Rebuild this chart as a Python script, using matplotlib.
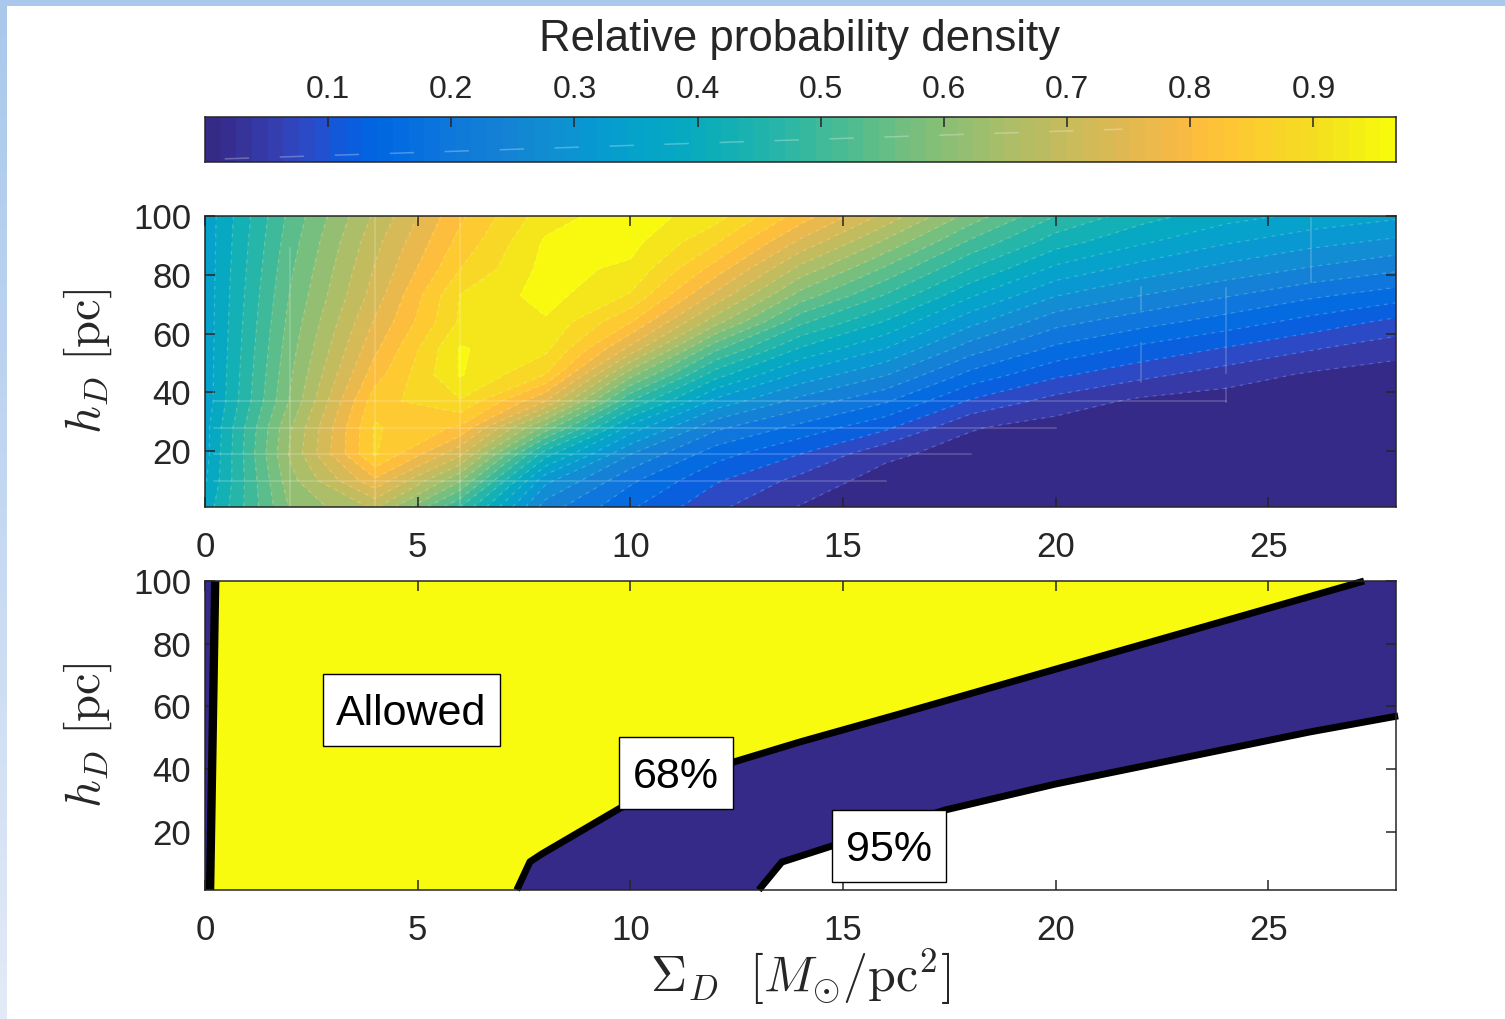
import numpy as np
import matplotlib
matplotlib.use('Agg')
import matplotlib.pyplot as plt
from matplotlib.colors import LinearSegmentedColormap
from matplotlib.patches import Rectangle

plt.rcParams['font.family'] = ['Liberation Sans', 'DejaVu Sans']
plt.rcParams['mathtext.fontset'] = 'cm'

# parula
parula_rgb = [
    [0.2081, 0.1663, 0.5292], [0.2116, 0.1898, 0.5777], [0.2123, 0.2138, 0.6270], [0.2081, 0.2386, 0.6771],
    [0.1959, 0.2645, 0.7279], [0.1707, 0.2919, 0.7792], [0.1253, 0.3242, 0.8303], [0.0591, 0.3598, 0.8683],
    [0.0117, 0.3875, 0.8820], [0.0060, 0.4086, 0.8828], [0.0165, 0.4266, 0.8786], [0.0329, 0.4430, 0.8720],
    [0.0498, 0.4586, 0.8641], [0.0629, 0.4737, 0.8554], [0.0723, 0.4887, 0.8467], [0.0779, 0.5040, 0.8384],
    [0.0793, 0.5200, 0.8312], [0.0749, 0.5375, 0.8263], [0.0641, 0.5570, 0.8240], [0.0488, 0.5772, 0.8228],
    [0.0343, 0.5966, 0.8199], [0.0265, 0.6137, 0.8135], [0.0239, 0.6287, 0.8038], [0.0231, 0.6418, 0.7913],
    [0.0228, 0.6535, 0.7768], [0.0267, 0.6642, 0.7607], [0.0384, 0.6743, 0.7436], [0.0590, 0.6838, 0.7254],
    [0.0843, 0.6928, 0.7062], [0.1133, 0.7015, 0.6859], [0.1453, 0.7098, 0.6646], [0.1801, 0.7177, 0.6424],
    [0.2178, 0.7250, 0.6193], [0.2586, 0.7317, 0.5954], [0.3022, 0.7376, 0.5712], [0.3482, 0.7424, 0.5473],
    [0.3953, 0.7459, 0.5244], [0.4420, 0.7481, 0.5033], [0.4871, 0.7491, 0.4840], [0.5300, 0.7491, 0.4661],
    [0.5709, 0.7485, 0.4494], [0.6099, 0.7473, 0.4337], [0.6473, 0.7456, 0.4188], [0.6834, 0.7435, 0.4044],
    [0.7184, 0.7411, 0.3905], [0.7525, 0.7384, 0.3768], [0.7858, 0.7356, 0.3633], [0.8185, 0.7327, 0.3498],
    [0.8507, 0.7299, 0.3360], [0.8824, 0.7274, 0.3217], [0.9139, 0.7258, 0.3063], [0.9450, 0.7261, 0.2886],
    [0.9739, 0.7314, 0.2666], [0.9938, 0.7455, 0.2403], [0.9990, 0.7653, 0.2164], [0.9955, 0.7861, 0.1967],
    [0.9880, 0.8066, 0.1794], [0.9789, 0.8271, 0.1633], [0.9697, 0.8481, 0.1475], [0.9626, 0.8705, 0.1309],
    [0.9589, 0.8949, 0.1132], [0.9598, 0.9218, 0.0948], [0.9661, 0.9514, 0.0755], [0.9763, 0.9831, 0.0538],
]
parula = LinearSegmentedColormap.from_list('parula', parula_rgb)

# data
sigma = [0, 2, 4, 6, 8, 10, 12, 14, 16, 18, 20, 22, 24, 26, 28]
hd = [1, 10, 19, 28, 37, 46, 55, 64, 73, 82, 91, 100]
density = [
    [.40, .62, .70, .50, .25, .16, .085, .036, .010, .005, .002, .001, .001, .001, .001],
    [.38, .64, .80, .62, .32, .20, .120, .065, .020, .010, .005, .002, .001, .001, .001],
    [.37, .66, .89, .74, .44, .27, .170, .115, .048, .020, .010, .005, .002, .001, .001],
    [.37, .65, .89, .84, .60, .37, .240, .180, .123, .042, .020, .010, .005, .002, .001],
    [.36, .62, .87, .92, .77, .50, .335, .255, .197, .110, .062, .030, .020, .010, .005],
    [.36, .61, .83, .966, .885, .63, .440, .335, .272, .180, .123, .088, .058, .033, .020],
    [.36, .60, .80, .966, .935, .76, .550, .420, .347, .250, .184, .145, .113, .081, .054],
    [.36, .59, .775, .93, .958, .85, .670, .510, .420, .320, .245, .208, .175, .140, .105],
    [.36, .58, .75, .925, .978, .92, .760, .600, .497, .390, .310, .270, .235, .200, .173],
    [.36, .57, .735, .885, .975, .955, .830, .680, .570, .460, .375, .330, .295, .265, .238],
    [.36, .56, .72, .86, .968, .975, .890, .760, .645, .530, .440, .390, .350, .320, .298],
    [.36, .55, .70, .84, .945, .985, .940, .830, .720, .600, .500, .440, .400, .375, .354],
]
level_step = 0.0385
clim_max = 0.967

# faint grid lines left in the contour plot
grid_h_y = [10, 19, 28, 37]
grid_h_end = [16, 18, 20, 24]
grid_v_x = [2, 4, 6, 22, 22, 24, 24, 26]
grid_v_lo = [1, 1, 1, 68, 43.5, 46.6, 36.7, 77.6]
grid_v_hi = [89, 100, 100, 75.9, 56.8, 75.5, 41.5, 99.3]

# limits of the bottom panel
c68_left_x = [0.12, 0.24]
c68_left_y = [1.5, 100]
c68_x = [7.33, 7.64, 7.92, 9.76, 11.5, 13.99, 16.3, 20, 24, 27.25]
c68_y = [1.5, 10.5, 13, 27.6, 38.5, 48.7, 57.5, 71.9, 87.4, 100]
c95_x = [13.02, 13.56, 14.8, 17.4, 20, 25.98, 28.05]
c95_y = [1.5, 10.4, 15.8, 27, 35.3, 51.9, 57]

box_text = ['Allowed', '68%', '95%']
box_x0 = [2.77, 9.73, 14.74]
box_x1 = [6.93, 12.41, 17.42]
box_y0 = [47.4, 27.3, 4.05]
box_y1 = [70.4, 50.3, 27.0]

cbar_ticks = [.1, .2, .3, .4, .5, .6, .7, .8, .9]
x_ticks = [0, 5, 10, 15, 20, 25]
y_ticks = [20, 40, 60, 80, 100]
W, H = 1505, 1019
dark = '#262626'
indigo = parula_rgb[0]
yellow = parula_rgb[-1]

fig = plt.figure(figsize=(W / 100, H / 100), dpi=100, facecolor='white')


def axes_px(x0, y0, x1, y1):
    return fig.add_axes([x0 / W, 1 - y1 / H, (x1 - x0) / W, (y1 - y0) / H])


def style(ax, labelsize=25):
    ax.tick_params(direction='in', length=7, width=1.1, color=dark, labelcolor=dark,
                   labelsize=labelsize, top=True, right=True)
    ax.tick_params(axis='x', pad=17)
    ax.tick_params(axis='y', pad=10)
    for s in ax.spines.values():
        s.set_linewidth(1.1)
        s.set_color(dark)
    ax.set_xticks(x_ticks)
    ax.set_yticks(y_ticks)


# blue window edge
edge = axes_px(0, 0, 7, H)
edge.imshow(np.linspace(0, 1, 200).reshape(-1, 1), aspect='auto', vmin=0, vmax=1,
            cmap=LinearSegmentedColormap.from_list('edge', ['#a9c8ec', '#c4d8f1', '#e2eaf6']))
edge.axis('off')
fig.add_artist(Rectangle((0, 1 - 6 / H), 1, 6 / H, transform=fig.transFigure, color='#a9c8ec', lw=0))

# colour bar
cax = axes_px(205, 117, 1396, 162)
steps = np.linspace(0, clim_max, 76)
cax.imshow(steps.reshape(1, -1), aspect='auto', cmap=parula, vmin=0, vmax=clim_max,
           extent=[0, clim_max, 0, 1], interpolation='nearest')
cax.plot([0.016, 0.745], [0.07, 0.73], color='white', alpha=0.28, lw=1.1, dashes=(16, 20))
cax.set_xlim(0, clim_max)
cax.set_ylim(0, 1)
cax.set_xticks(cbar_ticks)
cax.set_xticklabels([str(t) for t in cbar_ticks])
cax.set_yticks([])
cax.tick_params(axis='x', direction='in', top=True, bottom=False, labeltop=True, labelbottom=False,
                length=7, width=1.1, color=dark, labelcolor=dark, labelsize=23, pad=9)
for s in cax.spines.values():
    s.set_linewidth(1.1)
    s.set_color(dark)
fig.text(800 / W, 1 - 39 / H, 'Relative probability density', fontsize=31.5, color=dark,
         ha='center', va='center')

# contour panel
ax1 = axes_px(205, 216, 1396, 507)
levels = np.arange(0, 1.01, level_step)
band_colors = [parula(min(l / clim_max, 1.0)) for l in levels[:-1]]
X, Y = np.meshgrid(sigma, hd)
Z = np.array(density)
ax1.contourf(X, Y, Z, levels=levels, colors=band_colors)
ax1.contour(X, Y, Z, levels=levels[1:], colors='white', alpha=0.2, linewidths=0.9,
            linestyles=[(0, (3, 4))])
for y, xe in zip(grid_h_y, grid_h_end):
    ax1.plot([0.2, xe], [y, y], color='white', alpha=0.22, lw=1.1)
for x, lo, hi in zip(grid_v_x, grid_v_lo, grid_v_hi):
    ax1.plot([x, x], [lo, hi], color='white', alpha=0.22, lw=1.1)
ax1.set_xlim(0, 28)
ax1.set_ylim(1, 100)
style(ax1)
ax1.set_ylabel(r'$h_D\ [\mathrm{pc}]$', fontsize=35, color=dark, labelpad=14)

# allowed region panel
ax2 = axes_px(205, 581, 1396, 890)
ax2.set_facecolor('white')
ax2.fill(c95_x + [28.05, 0, 0], c95_y + [100, 100, 1.5], color=indigo, lw=0)
ax2.fill(c68_left_x + c68_x[::-1], c68_left_y + c68_y[::-1], color=yellow, lw=0)
ax2.plot(c68_left_x, c68_left_y, color='black', lw=6, clip_on=False, solid_capstyle='butt')
ax2.plot(c68_x, c68_y, color='black', lw=5, clip_on=False, solid_capstyle='butt')
ax2.plot(c95_x, c95_y, color='black', lw=5, clip_on=False, solid_capstyle='butt')
for t, a, b, c, d in zip(box_text, box_x0, box_x1, box_y0, box_y1):
    ax2.add_patch(Rectangle((a, c), b - a, d - c, facecolor='white', edgecolor='black', lw=1, zorder=5))
    ax2.text((a + b) / 2, (c + d) / 2 - 1.2, t, fontsize=31, color='black', ha='center', va='center', zorder=6)
ax2.set_xlim(0, 28)
ax2.set_ylim(1.5, 100)
style(ax2)
ax2.set_ylabel(r'$h_D\ [\mathrm{pc}]$', fontsize=35, color=dark, labelpad=14)
ax2.set_xlabel(r'$\Sigma_D\ \ [M_{\odot}/\mathrm{pc}^2]$', fontsize=36, color=dark, labelpad=0)

fig.savefig('out.png', dpi=100)
